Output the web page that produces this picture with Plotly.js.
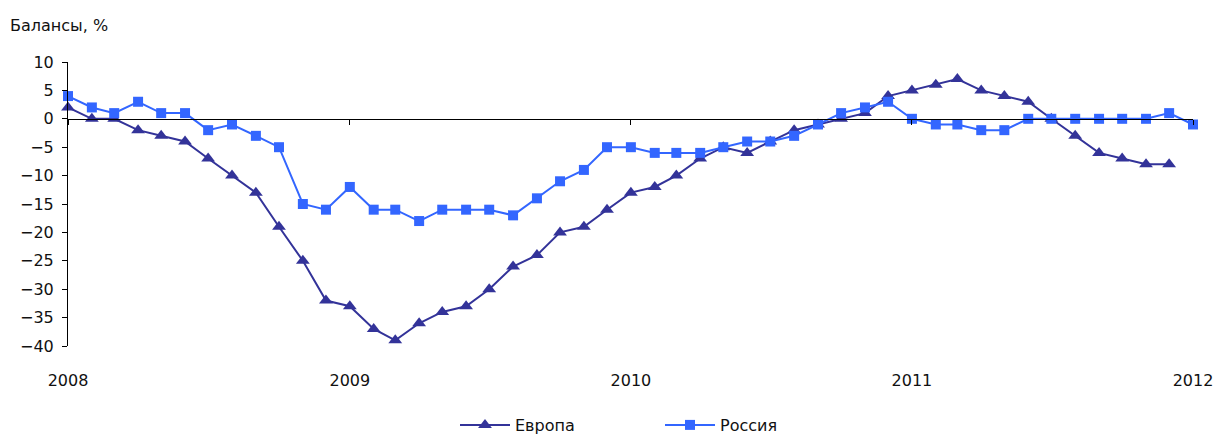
<!DOCTYPE html>
<html>
<head>
<meta charset="utf-8">
<script src="https://cdn.plot.ly/plotly-3.0.1.min.js"></script>
<style>html,body{margin:0;padding:0;background:#fff;}#chart{width:1215px;height:436px;}</style>
</head>
<body>
<div id="chart"></div>
<script>
// Months: Jan 2008 .. Jan 2012
var months = [
  '2008-01-01','2008-02-01','2008-03-01','2008-04-01','2008-05-01','2008-06-01','2008-07-01','2008-08-01','2008-09-01','2008-10-01','2008-11-01','2008-12-01',
  '2009-01-01','2009-02-01','2009-03-01','2009-04-01','2009-05-01','2009-06-01','2009-07-01','2009-08-01','2009-09-01','2009-10-01','2009-11-01','2009-12-01',
  '2010-01-01','2010-02-01','2010-03-01','2010-04-01','2010-05-01','2010-06-01','2010-07-01','2010-08-01','2010-09-01','2010-10-01','2010-11-01','2010-12-01',
  '2011-01-01','2011-02-01','2011-03-01','2011-04-01','2011-05-01','2011-06-01','2011-07-01','2011-08-01','2011-09-01','2011-10-01','2011-11-01','2011-12-01',
  '2012-01-01'
];

var europe = [
  2, 0, 0, -2, -3, -4, -7, -10, -13, -19, -25, -32,
  -33, -37, -39, -36, -34, -33, -30, -26, -24, -20, -19, -16,
  -13, -12, -10, -7, -5, -6, -4, -2, -1, 0, 1, 4,
  5, 6, 7, 5, 4, 3, 0, -3, -6, -7, -8, -8
];

var russia = [
  4, 2, 1, 3, 1, 1, -2, -1, -3, -5, -15, -16,
  -12, -16, -16, -18, -16, -16, -16, -17, -14, -11, -9, -5,
  -5, -6, -6, -6, -5, -4, -4, -3, -1, 1, 2, 3,
  0, -1, -1, -2, -2, 0, 0, 0, 0, 0, 0, 1,
  -1
];

var seriesNames = ['Европа', 'Россия'];
var yTitle = 'Балансы, %';
var yearTicks = ['2008-01-01','2009-01-01','2010-01-01','2011-01-01','2012-01-01'];
var yearLabels = ['2008','2009','2010','2011','2012'];

var font = {family: 'DejaVu Sans, Verdana, sans-serif', size: 16, color: '#111'};
var xRange = ['2008-01-01', '2012-01-01'];

var traces = [
  {
    x: months.slice(0, europe.length), y: europe, name: seriesNames[0],
    type: 'scatter', mode: 'lines+markers',
    line: {color: '#333399', width: 2},
    marker: {symbol: 'triangle-up', size: 12, color: '#333399'},
    cliponaxis: false
  },
  {
    x: months.slice(0, russia.length), y: russia, name: seriesNames[1],
    type: 'scatter', mode: 'lines+markers',
    line: {color: '#3366FF', width: 2},
    marker: {symbol: 'square', size: 10, color: '#3366FF'},
    cliponaxis: false
  },
  {
    x: [months[0]], y: [null], xaxis: 'x2', showlegend: false, hoverinfo: 'skip',
    type: 'scatter', mode: 'lines'
  }
];

var layout = {
  width: 1215, height: 436,
  margin: {l: 68, r: 22, t: 62, b: 90},
  paper_bgcolor: '#fff', plot_bgcolor: '#fff',
  font: font,
  showlegend: true,
  title: {
    text: yTitle, font: font,
    xref: 'container', yref: 'container',
    x: 10/1215, xanchor: 'left', y: 1 - 25/436, yanchor: 'middle'
  },
  xaxis: {
    type: 'date', range: xRange,
    tickvals: yearTicks, ticktext: yearLabels,
    showline: false, showgrid: false, zeroline: false,
    ticks: 'outside', ticklen: 20, tickcolor: 'rgba(0,0,0,0)',
    tickfont: font, fixedrange: true, automargin: false
  },
  xaxis2: {
    type: 'date', range: xRange, overlaying: 'x', anchor: 'free', position: 0.8,
    tickvals: yearTicks, showticklabels: false,
    showline: true, linecolor: '#000', linewidth: 1.5,
    ticks: 'outside', ticklen: 5, tickcolor: '#000', tickwidth: 1,
    showgrid: false, zeroline: false
  },
  yaxis: {
    range: [-40, 10], dtick: 5, tick0: 0,
    showline: true, linecolor: '#000', linewidth: 1,
    ticks: 'outside', ticklen: 5, tickcolor: '#000',
    ticklabelstandoff: 5,
    showgrid: false, zeroline: false,
    tickfont: font, fixedrange: true, automargin: false
  },
  legend: {
    orientation: 'h', xref: 'container', yref: 'container',
    x: 455/1215, xanchor: 'left', y: 1 - 425/436, yanchor: 'middle',
    font: font, entrywidth: 140, itemwidth: 50, bgcolor: 'rgba(0,0,0,0)'
  }
};

Plotly.newPlot('chart', traces, layout, {staticPlot: true, displayModeBar: false});
</script>
</body>
</html>
